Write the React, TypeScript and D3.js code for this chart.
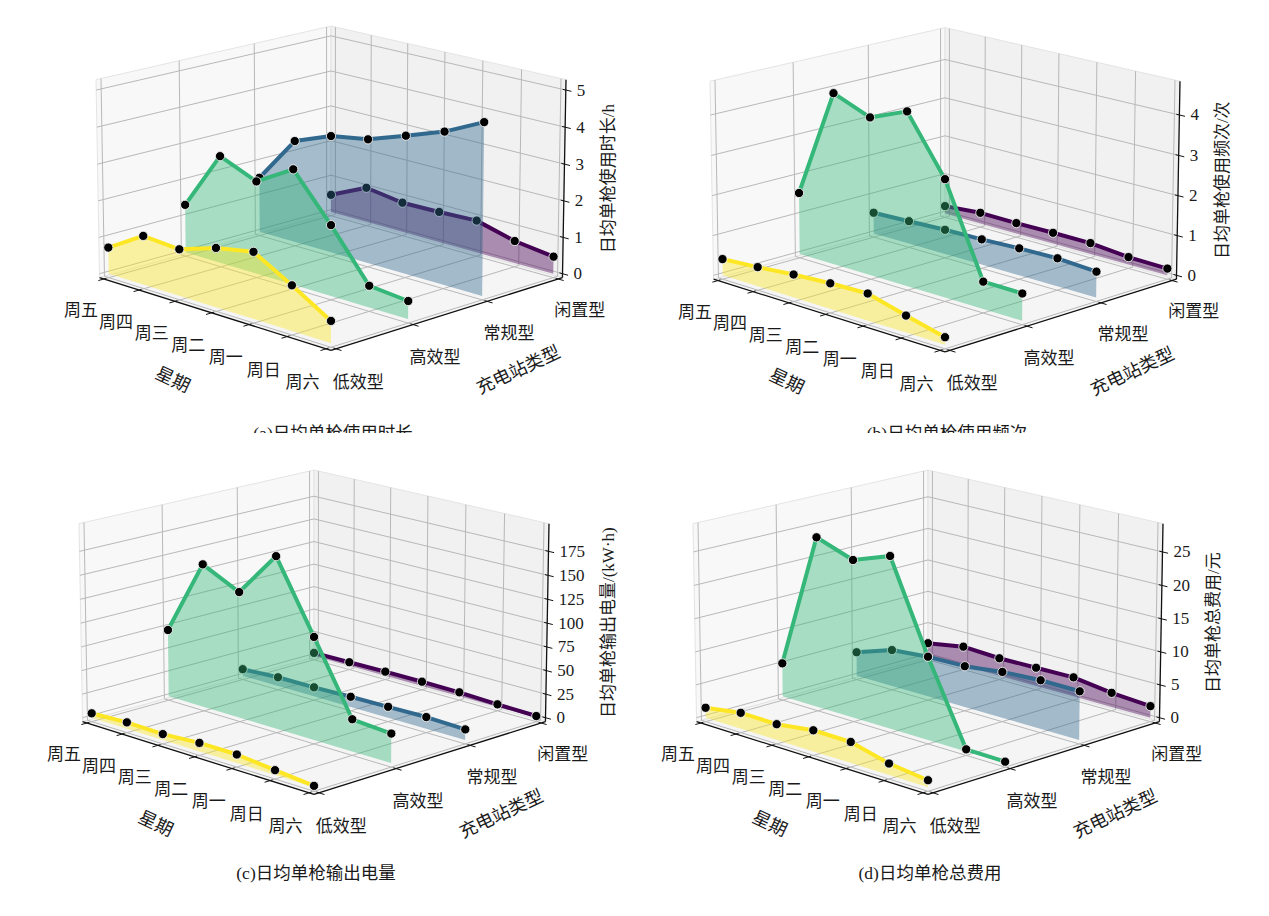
import { useEffect, useRef } from 'react';
import * as d3 from 'd3';

// categories
const weekdays = ['周五', '周四', '周三', '周二', '周一', '周日', '周六'];
const stationTypes = ['低效型', '高效型', '常规型', '闲置型'];
const seriesColors = ['#fde725', '#35b779', '#31688e', '#440154'];

// (a) daily usage hours per gun
const hoursLow = [0.72, 1.33, 1.26, 1.59, 1.78, 1.2, 0.58];
const hoursHigh = [1.33, 2.95, 2.53, 3.13, 1.91, 0.58, 0.48];
const hoursRegular = [1.54, 2.84, 3.24, 3.41, 3.77, 4.14, 4.65];
const hoursIdle = [0.5, 0.98, 0.83, 0.85, 0.89, 0.61, 0.47];

// (b) daily usage count per gun
const countLow = [0.41, 0.48, 0.57, 0.63, 0.66, 0.41, 0.18];
const countHigh = [1.56, 4.31, 3.94, 4.32, 2.91, 0.67, 0.66];
const countRegular = [0.54, 0.58, 0.62, 0.64, 0.68, 0.7, 0.64];
const countIdle = [0.2, 0.28, 0.27, 0.28, 0.28, 0.19, 0.17];

// (c) daily energy output per gun
const energyLow = [4.7, 6.7, 6.1, 8.8, 8.8, 4.9, 1.3];
const energyHigh = [71.6, 151.6, 132.6, 179.8, 106.9, 33.2, 30.2];
const energyRegular = [7.3, 9.5, 9.8, 10.9, 11.6, 12.3, 11.0];
const energyIdle = [3.5, 4.0, 4.6, 4.7, 4.4, 2.8, 1.8];

// (d) daily total cost per gun
const costLow = [1.52, 2.4, 2.36, 3.13, 3.1, 1.67, 1.0];
const costHigh = [5.12, 25.8, 23.8, 25.8, 12.4, 0.3, 0.2];
const costRegular = [3.72, 5.62, 6.14, 6.26, 6.97, 7.31, 7.27];
const costIdle = [2.06, 3.05, 2.77, 2.86, 2.95, 2.17, 1.77];

// z tick labels
const zTicksA = [0, 1, 2, 3, 4, 5];
const zTicksB = [0, 1, 2, 3, 4];
const zTicksC = [0, 25, 50, 75, 100, 125, 150, 175];
const zTicksD = [0, 5, 10, 15, 20, 25];

interface Panel {
  title: string;
  zLabel: string;
  zTop: number;
  zTicks: number[];
  series: number[][];
  cx: number;
  cy: number;
  titleY: number;
  clipTitle: boolean;
}

const panels: Panel[] = [
  {
    title: '(a)日均单枪使用时长',
    zLabel: '日均单枪使用时长/h',
    zTop: 5.17,
    zTicks: zTicksA,
    series: [hoursLow, hoursHigh, hoursRegular, hoursIdle],
    cx: 331,
    cy: 179.4,
    titleY: 439,
    clipTitle: true,
  },
  {
    title: '(b)日均单枪使用频次',
    zLabel: '日均单枪使用频次/次',
    zTop: 4.73,
    zTicks: zTicksB,
    series: [countLow, countHigh, countRegular, countIdle],
    cx: 945,
    cy: 181,
    titleY: 439,
    clipTitle: true,
  },
  {
    title: '(c)日均单枪输出电量',
    zLabel: '日均单枪输出电量/(kW·h)',
    zTop: 199.5,
    zTicks: zTicksC,
    series: [energyLow, energyHigh, energyRegular, energyIdle],
    cx: 314,
    cy: 623.4,
    titleY: 879,
    clipTitle: false,
  },
  {
    title: '(d)日均单枪总费用',
    zLabel: '日均单枪总费用/元',
    zTop: 28.6,
    zTicks: zTicksD,
    series: [costLow, costHigh, costRegular, costIdle],
    cx: 928,
    cy: 623.4,
    titleY: 879,
    clipTitle: false,
  },
];

// camera
const ELEV = (15.6 * Math.PI) / 180;
const SIN_E = Math.sin(ELEV);
const COS_E = Math.cos(ELEV);
const DIST = 22;
const SCALE = 164.9;
const A = 0.6231; // half height of the box in normalized units
const SQ = Math.SQRT1_2;

const FONT = "'Liberation Serif', 'Noto Sans CJK SC', serif";
const TEXT = '#1a1a1a';

type Sel = d3.Selection<SVGGElement, unknown, null, undefined>;

function drawPanel(root: Sel, p: Panel) {
  const g = root.append('g');

  const xN = d3.scaleLinear().domain([-0.125, 6.125]).range([-1, 1]);
  const yN = d3.scaleLinear().domain([-0.0625, 3.0625]).range([-1, 1]);
  const zN = d3
    .scaleLinear()
    .domain([-p.zTop / 48, (p.zTop * 49) / 48])
    .range([-A, A]);

  const proj = (X: number, Y: number, Z: number): [number, number] => {
    const rp = (X + Y) * SQ;
    const up = (Y - X) * SQ * SIN_E + COS_E * Z;
    const fp = (X - Y) * SQ * COS_E + SIN_E * Z;
    const k = DIST / (DIST - fp);
    return [p.cx + SCALE * rp * k, p.cy - SCALE * up * k];
  };
  const pt = (u: number, v: number, w: number) => proj(xN(u), yN(v), zN(w));

  const path = d3.line<[number, number]>();
  const poly = (pts: [number, number, number][]) =>
    path(pts.map((q) => proj(q[0], q[1], q[2])))! + 'Z';

  // panes
  const panes: { pts: [number, number, number][]; fill: string }[] = [
    { pts: [[-1, -1, -A], [1, -1, -A], [1, 1, -A], [-1, 1, -A]], fill: '#f5f5f5' },
    { pts: [[-1, -1, -A], [-1, 1, -A], [-1, 1, A], [-1, -1, A]], fill: '#f8f8f8' },
    { pts: [[-1, 1, -A], [1, 1, -A], [1, 1, A], [-1, 1, A]], fill: '#f1f1f1' },
  ];
  g.selectAll('path.pane')
    .data(panes)
    .join('path')
    .attr('class', 'pane')
    .attr('d', (d) => poly(d.pts))
    .attr('fill', (d) => d.fill)
    .attr('stroke', '#e4e4e4')
    .attr('stroke-width', 1);

  // grid
  const seg = (a: [number, number, number], b: [number, number, number]) =>
    path([proj(a[0], a[1], a[2]), proj(b[0], b[1], b[2])]);
  const gridLines: string[] = [];
  weekdays.forEach((_, i) => {
    const X = xN(i);
    gridLines.push(seg([X, -1, -A], [X, 1, -A])!);
    gridLines.push(seg([X, 1, -A], [X, 1, A])!);
  });
  stationTypes.forEach((_, j) => {
    const Y = yN(j);
    gridLines.push(seg([-1, Y, -A], [1, Y, -A])!);
    gridLines.push(seg([-1, Y, -A], [-1, Y, A])!);
  });
  p.zTicks.forEach((t) => {
    const Z = zN(t);
    gridLines.push(seg([-1, -1, Z], [-1, 1, Z])!);
    gridLines.push(seg([-1, 1, Z], [1, 1, Z])!);
  });
  g.append('g')
    .selectAll('path')
    .data(gridLines)
    .join('path')
    .attr('d', (d) => d)
    .attr('fill', 'none')
    .attr('stroke', '#b8b8b8')
    .attr('stroke-width', 1);

  // axis lines
  const axes = [
    seg([-1, -1, -A], [1, -1, -A]),
    seg([1, -1, -A], [1, 1, -A]),
    seg([1, 1, -A], [1, 1, A]),
  ];
  g.append('g')
    .selectAll('path')
    .data(axes)
    .join('path')
    .attr('d', (d) => d!)
    .attr('fill', 'none')
    .attr('stroke', '#111')
    .attr('stroke-width', 1.3);

  // tick marks
  const ticks: string[] = [];
  weekdays.forEach((_, i) => {
    const X = xN(i);
    ticks.push(seg([X, -1 + 0.02, -A], [X, -1 - 0.045, -A])!);
  });
  stationTypes.forEach((_, j) => {
    const Y = yN(j);
    ticks.push(seg([1 - 0.02, Y, -A], [1 + 0.045, Y, -A])!);
  });
  p.zTicks.forEach((t) => {
    const Z = zN(t);
    ticks.push(seg([1 - 0.025, 1, Z], [1 + 0.045, 1, Z])!);
  });
  g.append('g')
    .selectAll('path')
    .data(ticks)
    .join('path')
    .attr('d', (d) => d)
    .attr('stroke', '#111')
    .attr('stroke-width', 1);

  // data: back to front
  const order = [3, 2, 1, 0];
  order.forEach((j) => {
    const vals = p.series[j];
    const color = seriesColors[j];
    const top = vals.map((w, i) => pt(i, j, w));
    const bottom = vals.map((_, i) => pt(i, j, 0)).reverse();
    const sg = g.append('g');
    sg.append('path')
      .attr('d', path([...top, ...bottom])! + 'Z')
      .attr('fill', color)
      .attr('fill-opacity', 0.42)
      .attr('stroke', 'none');
    sg.append('path')
      .attr('d', path(top)!)
      .attr('fill', 'none')
      .attr('stroke', color)
      .attr('stroke-width', 4)
      .attr('stroke-linejoin', 'round');
    sg.selectAll('circle')
      .data(top)
      .join('circle')
      .attr('cx', (d) => d[0])
      .attr('cy', (d) => d[1])
      .attr('r', 4.6)
      .attr('fill', '#000')
      .attr('stroke', '#fff')
      .attr('stroke-width', 0.8);
  });

  // tick labels
  const txt = g.append('g').attr('font-family', FONT).attr('fill', TEXT);
  txt
    .selectAll('text.wd')
    .data(weekdays)
    .join('text')
    .attr('class', 'wd')
    .attr('font-size', 17)
    .attr('text-anchor', 'middle')
    .attr('dominant-baseline', 'central')
    .attr('transform', (_, i) => {
      const [x, y] = proj(xN(i), -1.19, -A - 0.16);
      return `translate(${x},${y})`;
    })
    .text((d) => d);
  txt
    .selectAll('text.st')
    .data(stationTypes)
    .join('text')
    .attr('class', 'st')
    .attr('font-size', 17)
    .attr('text-anchor', 'middle')
    .attr('dominant-baseline', 'central')
    .attr('transform', (_, j) => {
      const [x, y] = proj(1.18, yN(j), -A - 0.16);
      return `translate(${x},${y})`;
    })
    .text((d) => d);
  txt
    .selectAll('text.zt')
    .data(p.zTicks)
    .join('text')
    .attr('class', 'zt')
    .attr('font-size', 17)
    .attr('text-anchor', 'start')
    .attr('dominant-baseline', 'central')
    .attr('transform', (t) => {
      const [x, y] = proj(1, 1, zN(t));
      return `translate(${x + 11},${y})`;
    })
    .text((d) => d);

  // axis titles
  const [wx, wy] = proj(0.2, -1.5, -A - 0.25);
  txt
    .append('text')
    .attr('font-size', 18)
    .attr('text-anchor', 'middle')
    .attr('dominant-baseline', 'central')
    .attr('transform', `translate(${wx},${wy}) rotate(25)`)
    .text('星期');
  const [sx, sy] = proj(1.5, 0.05, -A - 0.25);
  txt
    .append('text')
    .attr('font-size', 18)
    .attr('text-anchor', 'middle')
    .attr('dominant-baseline', 'central')
    .attr('transform', `translate(${sx},${sy}) rotate(-25)`)
    .text('充电站类型');

  const zBottom = proj(1, 1, -A);
  const zTopPt = proj(1, 1, A);
  const maxLen = d3.max(p.zTicks, (t) => String(t).length) ?? 1;
  const zx = zTopPt[0] + 12 + maxLen * 8.5 + 22;
  const zy = (zBottom[1] + zTopPt[1]) / 2;
  txt
    .append('text')
    .attr('font-size', 17)
    .attr('text-anchor', 'middle')
    .attr('dominant-baseline', 'central')
    .attr('transform', `translate(${zx},${zy}) rotate(-90)`)
    .text(p.zLabel);

  // subplot title
  const title = txt
    .append('text')
    .attr('font-size', 17.5)
    .attr('text-anchor', 'middle')
    .attr('x', p.cx + 2)
    .attr('y', p.titleY)
    .text(p.title);
  if (p.clipTitle) title.attr('clip-path', 'url(#titleClip)');
}

export default function App() {
  const ref = useRef<SVGSVGElement>(null);

  useEffect(() => {
    const el = ref.current;
    if (!el) return;
    const svg = d3.select(el);
    svg.selectAll('*').remove();
    svg
      .append('defs')
      .append('clipPath')
      .attr('id', 'titleClip')
      .attr('clipPathUnits', 'userSpaceOnUse')
      .append('rect')
      .attr('x', 0)
      .attr('y', 0)
      .attr('width', 1269)
      .attr('height', 433);
    const root = svg.append('g') as unknown as Sel;
    panels.forEach((p) => drawPanel(root, p));
  }, []);

  return (
    <svg
      ref={ref}
      width={1269}
      height={916}
      style={{ position: 'absolute', left: 0, top: 0, background: '#fff' }}
    />
  );
}
